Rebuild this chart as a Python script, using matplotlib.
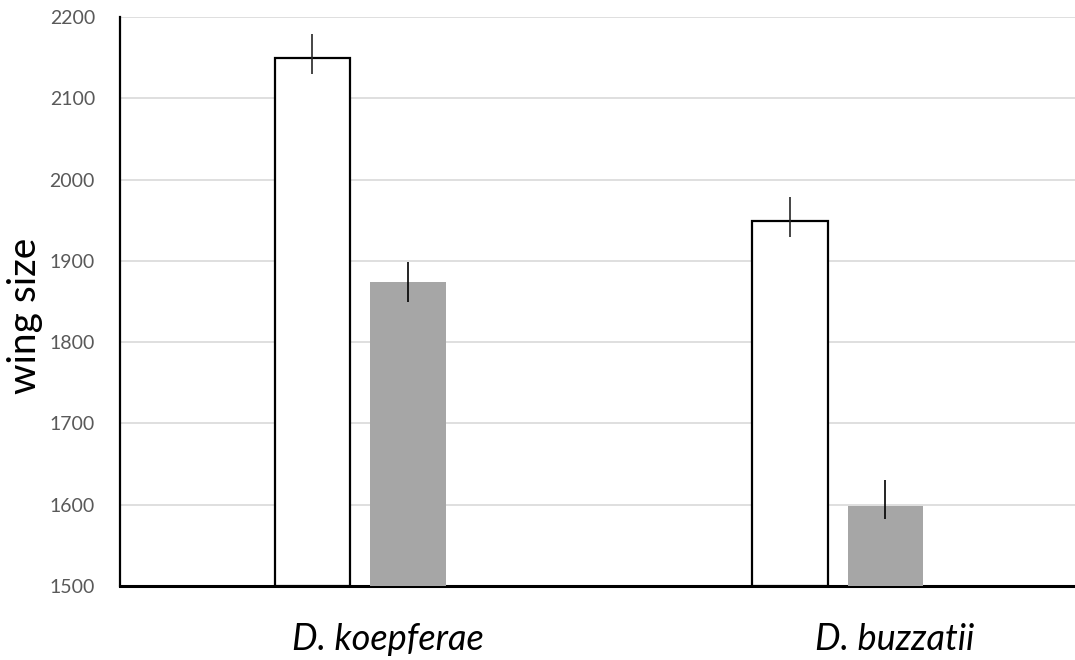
import matplotlib
matplotlib.use("Agg")
import matplotlib.pyplot as plt
import matplotlib.transforms as mtransforms
import numpy as np

categories = ["D. koepferae", "D. buzzatii"]
white_vals = [2149, 1949]
white_err_low = [2130, 1929]
white_err_high = [2179, 1979]
gray_vals = [1874, 1599]
gray_err_low = [1849, 1582]
gray_err_high = [1899, 1631]
yticks = [1500, 1600, 1700, 1800, 1900, 2000, 2100, 2200]

plt.rcParams['font.family'] = ['Lato', 'DejaVu Sans']

fig = plt.figure(figsize=(10.75, 6.6), dpi=100)
ax = fig.add_axes([120/1075, 74/660, 955/1075, 569/660])

x = np.arange(len(categories)) + 0.5
w = 0.158
off = 0.1

wv = np.array(white_vals); gv = np.array(gray_vals)
ax.bar(x - off + 0.003, wv - 1500, bottom=1500, width=w, color="white", edgecolor="black", linewidth=1.6, zorder=3)
ax.bar(x + off + 0.003, gv - 1500, bottom=1500, width=w, color="#a6a6a6", edgecolor="none", zorder=3)
ax.errorbar(x - off + 0.003, wv, yerr=[wv - np.array(white_err_low), np.array(white_err_high) - wv],
            fmt="none", ecolor="#262626", elinewidth=1.2, capsize=0, zorder=4)
ax.errorbar(x + off + 0.003, gv, yerr=[gv - np.array(gray_err_low), np.array(gray_err_high) - gv],
            fmt="none", ecolor="#000000", elinewidth=1.2, capsize=0, zorder=4)

ax.set_xlim(0, 2)
ax.set_ylim(1500, 2200)
ax.set_yticks(yticks)
ax.set_yticklabels([str(t) for t in yticks], fontsize=14, color="#595959")
ax.set_xticks(x)
ax.set_xticklabels(categories, fontsize=26, style="italic", color="black")
ax.tick_params(axis="y", length=0, pad=18)
ax.tick_params(axis="x", length=0, pad=27)
label_shift_in = [0.29, 0.58]
for lbl, dx in zip(ax.get_xticklabels(), label_shift_in):
    lbl.set_transform(lbl.get_transform() + mtransforms.ScaledTranslation(dx, 0, fig.dpi_scale_trans))
ax.yaxis.grid(True, color="#d9d9d9", linewidth=1.2, zorder=0)
ax.set_axisbelow(True)
ax.spines["top"].set_visible(False)
ax.spines["right"].set_visible(False)
ax.spines["left"].set_linewidth(1.6)
ax.spines["bottom"].set_linewidth(2.2)
ax.set_ylabel("wing size", fontsize=28)
ax.yaxis.set_label_coords(-0.0806, 0.4745)

fig.savefig("out.png", dpi=100)
